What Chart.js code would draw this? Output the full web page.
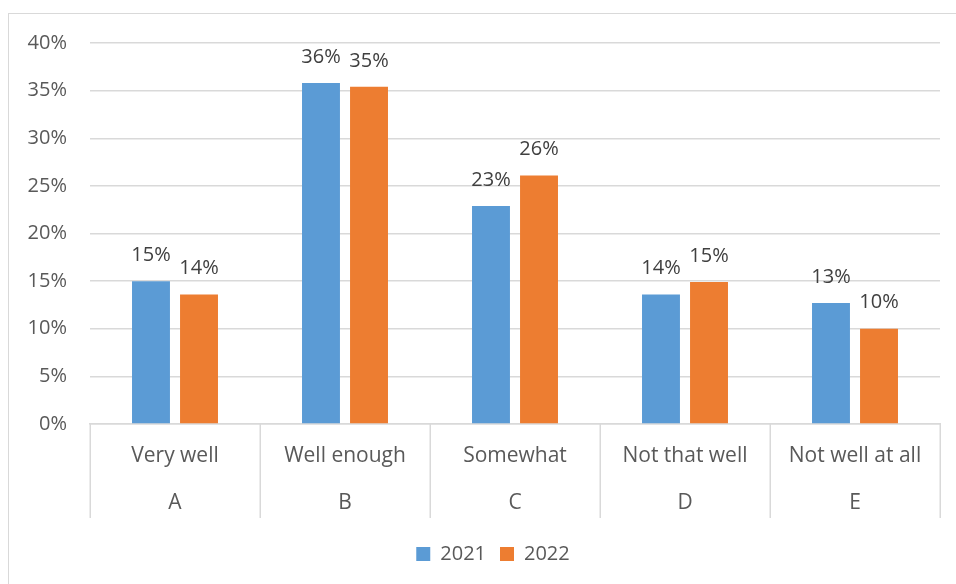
<!DOCTYPE html>
<html>
<head>
<meta charset="utf-8">
<script src="https://cdn.jsdelivr.net/npm/chart.js@4.4.0/dist/chart.umd.min.js"></script>
<style>
  html, body { margin: 0; padding: 0; background: #fff; overflow: hidden; }
  #wrap { position: relative; width: 956px; height: 584px; }
  #frame { position: absolute; left: 8px; top: 13px; width: 980px; height: 620px;
           border: 1.5px solid #d9d9d9; box-sizing: border-box; }
  canvas { position: absolute; left: 0; top: 0; }
</style>
</head>
<body>
<div id="wrap">
  <div id="frame"></div>
  <canvas id="c" width="956" height="584"></canvas>
</div>
<script>
// Survey answers, grouped by answer option (upper label) and letter code (lower label)
const categories = ['Very well', 'Well enough', 'Somewhat', 'Not that well', 'Not well at all'];
const groups = ['A', 'B', 'C', 'D', 'E'];
const seriesNames = ['2021', '2022'];
const values2021 = [15.0, 35.8, 22.9, 13.6, 12.7];
const values2022 = [13.6, 35.4, 26.1, 14.9, 10.0];
const yMin = 0;
const yMax = 40;
const yStep = 5;

const FONT = '"Open Sans", "Noto Sans", sans-serif';
const GRID = '#d9d9d9';
const TEXT = '#595959';

// Value labels printed above each bar
const barLabels = {
  id: 'barLabels',
  afterDatasetsDraw(chart) {
    const ctx = chart.ctx;
    ctx.save();
    ctx.font = '20px ' + FONT;
    ctx.fillStyle = '#404040';
    ctx.textAlign = 'center';
    ctx.textBaseline = 'middle';
    chart.data.datasets.forEach((ds, di) => {
      chart.getDatasetMeta(di).data.forEach((bar, i) => {
        ctx.fillText(Math.round(ds.data[i]) + '%', bar.x, bar.y - 26);
      });
    });
    ctx.restore();
  }
};

// Vertical dividers between the category groups, below the axis line
const groupDividers = {
  id: 'groupDividers',
  afterDraw(chart) {
    const x = chart.scales.x;
    const ctx = chart.ctx;
    const top = chart.chartArea.bottom;
    const bottom = top + 94;
    ctx.save();
    ctx.strokeStyle = GRID;
    ctx.lineWidth = 1.5;
    ctx.beginPath();
    for (let i = 0; i <= categories.length; i++) {
      const px = Math.round(x.getPixelForValue(i - 0.5)) + 0.25;
      ctx.moveTo(px, top);
      ctx.lineTo(px, bottom);
    }
    ctx.stroke();
    ctx.restore();
  }
};

// Nudge the legend row so it sits under the middle of the plot
const legendShift = {
  id: 'legendShift',
  afterLayout(chart) {
    if (chart.legend) {
      chart.legend.left += 23;
      chart.legend.right += 23;
    }
  }
};

new Chart(document.getElementById('c'), {
  type: 'bar',
  data: {
    labels: categories.map((c, i) => [c, groups[i]]),
    datasets: [
      { label: seriesNames[0], data: values2021, backgroundColor: '#5b9bd5' },
      { label: seriesNames[1], data: values2022, backgroundColor: '#ed7d31' }
    ]
  },
  options: {
    responsive: false,
    animation: false,
    devicePixelRatio: 1,
    datasets: { bar: { categoryPercentage: 0.565, barPercentage: 0.79 } },
    layout: { padding: { top: 43, right: 16, left: 0, bottom: 10 } },
    plugins: {
      tooltip: { enabled: false },
      legend: {
        position: 'bottom',
        labels: {
          boxWidth: 14, boxHeight: 14, padding: 14,
          color: TEXT, font: { family: FONT, size: 20 }
        }
      }
    },
    scales: {
      x: {
        afterFit(scale) { scale.height = 106; },
        grid: { display: false, drawTicks: false },
        border: { display: true, color: GRID, width: 1.5 },
        ticks: { padding: 8, color: TEXT, maxRotation: 0, autoSkip: false,
                 font: { family: FONT, size: 21, lineHeight: 2.24 } }
      },
      y: {
        min: yMin, max: yMax,
        afterFit(scale) { scale.width = 90; },
        grid: { color: GRID, lineWidth: 1.5, drawTicks: false },
        border: { display: false },
        ticks: { stepSize: yStep, padding: 23, color: TEXT,
                 font: { family: FONT, size: 20 },
                 callback: v => v + '%' }
      }
    }
  },
  plugins: [barLabels, groupDividers, legendShift]
});
</script>
</body>
</html>
